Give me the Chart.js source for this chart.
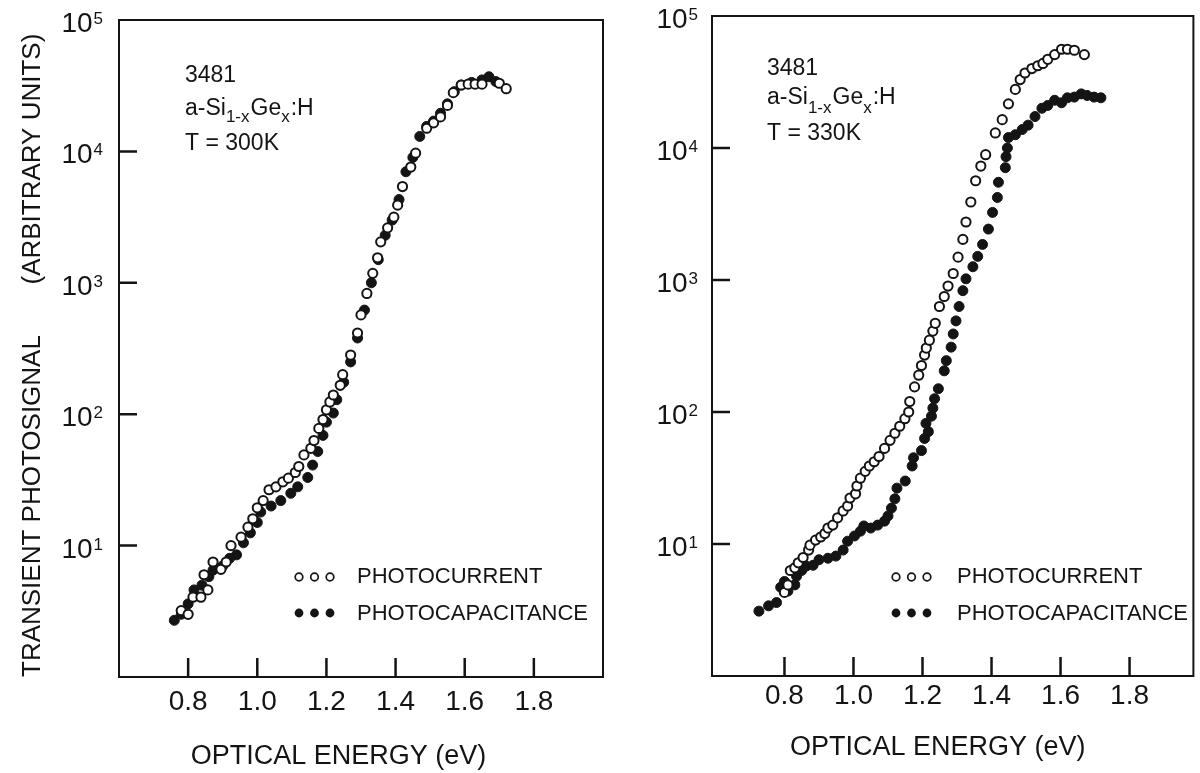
<!DOCTYPE html>
<html><head><meta charset="utf-8">
<script src="https://cdn.jsdelivr.net/npm/chart.js@4.4.0/dist/chart.umd.min.js"></script>
<style>
html,body{margin:0;padding:0;background:#fff;width:1200px;height:773px;overflow:hidden}
.p{position:absolute;top:0;height:773px}
#wl{left:0;width:620px}
#wr{left:620px;width:580px}
</style></head><body>
<div class="p" id="wl"><canvas id="cl"></canvas></div>
<div class="p" id="wr"><canvas id="cr"></canvas></div>
<script>
// ---- text ----
const xTicks = [0.8, 1.0, 1.2, 1.4, 1.6, 1.8];
const yTicks = [10, 100, 1000, 10000, 100000];
const yBase = '10';
const yExp = ['1', '2', '3', '4', '5'];
const legendLabels = ['PHOTOCURRENT', 'PHOTOCAPACITANCE'];
const xTitle = 'OPTICAL ENERGY (eV)';
const yTitle = 'TRANSIENT PHOTOSIGNAL       (ARBITRARY UNITS)';
const sampleId = '3481';
const formulaParts = ['a-Si', '1-x', 'Ge', 'x', ':H'];
const leftTemp = 'T = 300K';
const rightTemp = 'T = 330K';

// ---- left panel, T = 300K ----
const leftCurE = [0.78,0.80,0.814,0.837,0.846,0.857,0.872,0.895,0.91,0.924,0.953,0.973,0.987,1.00,1.017,1.034,1.054,1.074,1.09,1.11,1.12,1.135,1.155,1.164,1.178,1.19,1.20,1.21,1.22,1.24,1.247,1.27,1.29,1.30,1.317,1.334,1.348,1.357,1.377,1.395,1.406,1.42,1.444,1.458,1.49,1.51,1.53,1.55,1.567,1.59,1.61,1.63,1.65,1.70,1.72];
const leftCurV = [3.2,3.0,4.05,4.05,6.0,4.6,7.5,6.6,7.5,10,11.6,13.8,16,19.4,22,26.6,28,30.6,32.6,36,40,49,55,63,78,91,108,124,140,166,200,282,415,570,830,1180,1550,2050,2620,3160,3900,5400,7600,9700,15000,16500,18300,22400,28000,32000,32500,32500,32500,33000,30000];
const leftCapE = [0.76,0.78,0.80,0.817,0.84,0.86,0.872,0.90,0.92,0.94,0.96,0.98,1.00,1.01,1.04,1.068,1.097,1.117,1.146,1.16,1.175,1.19,1.20,1.22,1.23,1.25,1.27,1.29,1.31,1.33,1.35,1.37,1.39,1.41,1.43,1.45,1.47,1.49,1.51,1.53,1.55,1.57,1.59,1.62,1.65,1.67,1.69];
const leftCapV = [2.7,3.0,3.6,4.6,5.0,5.8,6.5,7.0,8.0,8.5,10.5,12.5,15,18,20,22,25,28,33,41,52,69,87,102,129,175,250,380,620,1000,1500,2300,3000,4300,7000,9000,13000,15500,17000,19500,23000,28500,32000,33500,35000,37000,34000];

// ---- right panel, T = 330K ----
const rightCurE = [0.80,0.81,0.817,0.83,0.84,0.854,0.87,0.874,0.89,0.905,0.917,0.926,0.94,0.954,0.97,0.983,0.99,1.006,1.01,1.02,1.034,1.046,1.06,1.074,1.09,1.106,1.12,1.134,1.149,1.16,1.163,1.177,1.189,1.197,1.206,1.211,1.22,1.23,1.237,1.249,1.263,1.274,1.289,1.303,1.317,1.326,1.34,1.354,1.369,1.383,1.411,1.431,1.449,1.469,1.483,1.497,1.517,1.534,1.549,1.563,1.583,1.603,1.62,1.64,1.669];
const rightCurV = [4.3,4.9,6.3,6.6,7.2,7.9,9.0,9.8,10.7,11.3,12,13.2,13.9,15.8,17.8,19.4,22.3,24,27.5,31.5,35.5,39,42,46,53,61,69,78,89,100,120,155,190,225,270,305,350,410,470,630,750,900,1120,1490,2030,2750,3900,5650,7300,8900,13000,16400,21600,27800,33000,37000,40000,42000,43700,47000,51000,56000,56000,55000,51000];
const rightCapE = [0.726,0.754,0.777,0.789,0.80,0.81,0.83,0.835,0.85,0.863,0.883,0.90,0.926,0.949,0.97,0.983,1.003,1.02,1.03,1.05,1.07,1.09,1.10,1.11,1.12,1.126,1.15,1.17,1.174,1.197,1.206,1.21,1.217,1.226,1.23,1.235,1.246,1.263,1.269,1.283,1.289,1.297,1.306,1.317,1.326,1.346,1.36,1.374,1.391,1.403,1.417,1.42,1.44,1.442,1.446,1.449,1.469,1.489,1.506,1.526,1.546,1.563,1.583,1.603,1.62,1.64,1.66,1.677,1.697,1.717];
const rightCapV = [3.1,3.4,3.6,4.7,5.2,4.4,4.9,5.7,6.3,6.8,6.9,7.6,7.8,8.1,9.0,10.5,11.5,12.5,13.7,13.2,13.9,14.9,16.3,18.7,22,26.5,30,39,45,51,63,82,71,93,107,126,150,205,245,310,390,490,630,830,1020,1260,1510,1860,2430,3250,4220,5500,7100,8600,10000,12000,12600,13800,14900,17300,20000,21000,23000,22000,24000,24300,25700,25000,24300,24000];

const FONT = "'Liberation Sans', Arial, sans-serif";
const INK = '#141414';

function pts(E, V) { return E.map((e, i) => ({ x: e, y: V[i] })); }

function decor(p) {
  return {
    id: 'decor',
    afterDraw(chart) {
      const { ctx, chartArea: a } = chart;
      const xs = chart.scales.x, ys = chart.scales.y;
      ctx.save();
      ctx.strokeStyle = INK;
      ctx.lineWidth = 2;
      ctx.strokeRect(a.left, a.top, a.right - a.left, a.bottom - a.top);
      ctx.lineWidth = 2.5;
      ctx.beginPath();
      xTicks.forEach(v => { const px = xs.getPixelForValue(v); ctx.moveTo(px, a.bottom); ctx.lineTo(px, a.bottom - 19); });
      yTicks.forEach(v => { if (v >= 1e5) return; const py = ys.getPixelForValue(v); ctx.moveTo(a.left, py); ctx.lineTo(a.left + 18, py); });
      ctx.stroke();

      // y tick labels 10^n
      ctx.fillStyle = INK; ctx.textAlign = 'left'; ctx.textBaseline = 'alphabetic';
      yTicks.forEach((v, i) => {
        const py = ys.getPixelForValue(v);
        ctx.font = '28px ' + FONT; const w10 = ctx.measureText(yBase).width;
        ctx.font = '17px ' + FONT; const we = ctx.measureText(yExp[i]).width;
        const x0 = a.left - p.yLabGap - we - w10 - 1;
        ctx.font = '28px ' + FONT; ctx.fillText(yBase, x0, py + 12);
        ctx.font = '17px ' + FONT; ctx.fillText(yExp[i], x0 + w10 + 1, py + 4);
      });

      // annotation
      const ax = a.left + p.annX;
      ctx.font = '23px ' + FONT;
      ctx.fillText(sampleId, ax, a.top + p.annY[0]);
      let cx = ax; const by = a.top + p.annY[1];
      formulaParts.forEach((t, i) => {
        const sub = (i % 2 === 1);
        ctx.font = (sub ? '17px ' : '23px ') + FONT;
        ctx.fillText(t, cx, by + (sub ? p.subDy : 0));
        cx += ctx.measureText(t).width + (sub ? 1 : 0);
      });
      ctx.font = '23px ' + FONT;
      ctx.fillText(p.temp, ax, a.top + p.annY[2]);

      // legend
      const lx = a.left + p.legX, ly = a.top + p.legY;
      for (let k = 0; k < 3; k++) {
        const cxp = lx + k * 15.5;
        ctx.beginPath(); ctx.arc(cxp, ly, 3.8, 0, Math.PI * 2);
        ctx.fillStyle = '#fff'; ctx.fill(); ctx.lineWidth = 1.7; ctx.strokeStyle = INK; ctx.stroke();
        ctx.beginPath(); ctx.arc(cxp, ly + 36, 4.4, 0, Math.PI * 2);
        ctx.fillStyle = INK; ctx.fill();
      }
      ctx.fillStyle = INK; ctx.font = '22px ' + FONT; ctx.textBaseline = 'middle';
      ctx.fillText(legendLabels[0], a.left + p.legTX, ly);
      ctx.fillText(legendLabels[1], a.left + p.legTX, ly + 37);
      ctx.restore();
    }
  };
}

function build(id, p) {
  return new Chart(document.getElementById(id), {
    type: 'scatter',
    data: {
      datasets: [
        { label: legendLabels[0], data: pts(p.curE, p.curV), pointRadius: 4.6, pointBorderWidth: 2,
          pointBackgroundColor: '#fff', pointBorderColor: INK, showLine: false },
        { label: legendLabels[1], data: pts(p.capE, p.capV), pointRadius: 5, pointBorderWidth: 1,
          pointBackgroundColor: INK, pointBorderColor: INK, showLine: false }
      ]
    },
    options: {
      responsive: true, maintainAspectRatio: false, animation: false, devicePixelRatio: 1,
      layout: { padding: { top: p.top, right: p.right, bottom: 0, left: 0 } },
      plugins: { legend: { display: false }, tooltip: { enabled: false } },
      scales: {
        x: {
          type: 'linear', min: p.xMin, max: p.xMax,
          afterBuildTicks: s => { s.ticks = xTicks.map(v => ({ value: v })); },
          afterFit: s => { s.height = p.xH; },
          grid: { display: false, drawTicks: false }, border: { display: false },
          ticks: { padding: p.xPad, color: INK, font: { family: FONT, size: 28 }, autoSkip: false, maxRotation: 0,
                   callback: v => Number(v).toFixed(1) },
          title: { display: true, text: xTitle + p.xTitleTail, color: INK, font: { family: FONT, size: 27 },
                   padding: { top: 0, bottom: p.xTitleB } }
        },
        y: {
          type: 'logarithmic', min: 1, max: 100000,
          afterFit: s => { s.width = p.yW; },
          grid: { display: false, drawTicks: false }, border: { display: false },
          ticks: { display: false },
          title: { display: p.showYTitle, text: yTitle, align: 'start', color: INK,
                   font: { family: FONT, size: 26 }, padding: { top: 17, bottom: 0 } }
        }
      }
    },
    plugins: [decor(p)]
  });
}

build('cl', {
  curE: leftCurE, curV: leftCurV, capE: leftCapE, capV: leftCapV,
  top: 20, right: 17, yW: 119, xH: 96, xMin: 0.6, xMax: 2.0, xPad: 8,
  xTitleTail: '      ', xTitleB: 0, showYTitle: true, yLabGap: 16,
  annX: 66, annY: [62, 95, 130], subDy: 7, temp: leftTemp,
  legX: 180, legY: 557, legTX: 238
});
build('cr', {
  curE: rightCurE, curV: rightCurV, capE: rightCapE, capV: rightCapV,
  top: 16, right: 3, yW: 92, xH: 97, xMin: 0.59, xMax: 1.985, xPad: 3,
  xTitleTail: '    ', xTitleB: 9, showYTitle: false, yLabGap: 14,
  annX: 55, annY: [59, 88, 124], subDy: 9, temp: rightTemp,
  legX: 184, legY: 561, legTX: 245
});
</script>
</body></html>
